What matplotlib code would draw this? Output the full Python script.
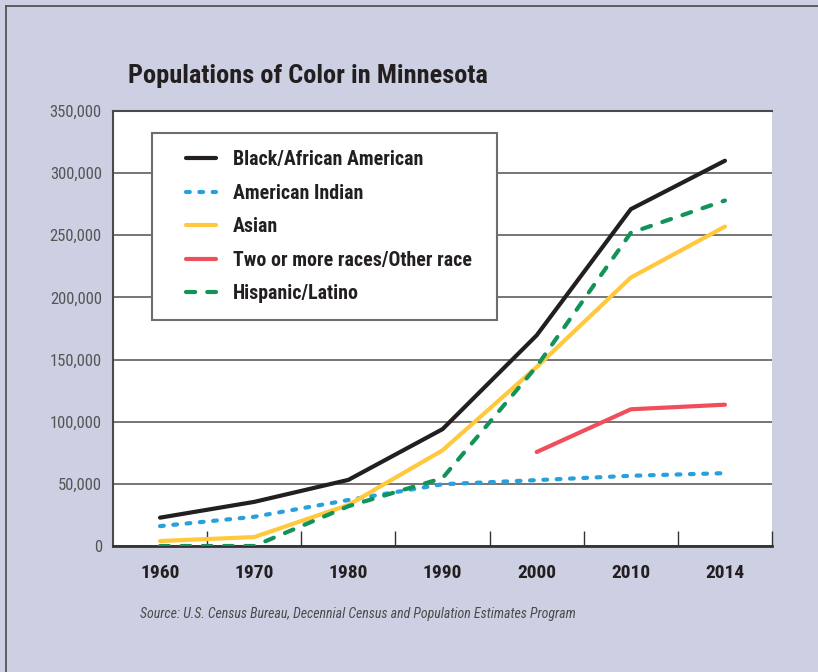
import numpy as np
import matplotlib
matplotlib.use("Agg")
import matplotlib.pyplot as plt
from matplotlib import font_manager as fm
from matplotlib.lines import Line2D
from matplotlib.patches import Rectangle

# Pick a narrow sans face if one is installed
_condensed = {f.name for f in fm.fontManager.ttflist
              if f.stretch in ('condensed', 'semi-condensed', 'extra-condensed',
                               'ultra-condensed')}
_family = 'DejaVu Sans'
for _name in ('Liberation Sans Narrow', 'Roboto Condensed', 'Open Sans Condensed',
              'Noto Sans Condensed', 'DejaVu Sans', 'Noto Sans', 'Open Sans', 'Roboto'):
    if _name in _condensed:
        _family = _name
        break
plt.rcParams['font.family'] = [_family, 'DejaVu Sans']
plt.rcParams['font.stretch'] = 'condensed'

# Census years and population counts by group
years = ['1960', '1970', '1980', '1990', '2000', '2010', '2014']
black = [22800, 35500, 53200, 94000, 169500, 271000, 310000]
american_indian = [16000, 23500, 37000, 49700, 53000, 56500, 58600]
asian = [4000, 7200, 33000, 77000, 144000, 216000, 257000]
two_or_more = [np.nan, np.nan, np.nan, np.nan, 75600, 110000, 113700]
hispanic = [0, 0, 32000, 54600, 144500, 252000, 278000]

y_ticks = [0, 50000, 100000, 150000, 200000, 250000, 300000, 350000]

BG = '#cdd0e3'
fig = plt.figure(figsize=(8.18, 6.72), dpi=100, facecolor=BG)
ax = fig.add_axes([0.1381, 0.1875, 0.8057, 0.6473])
ax.set_facecolor('white')

x = np.arange(len(years))
lw = 3.0
ax.plot(x, black, color='#231f20', lw=lw, solid_capstyle='round',
        solid_joinstyle='miter', label='Black/African American', zorder=4)
ax.plot(x, american_indian, color='#27a0dc', lw=lw, ls=(0, (0.9, 2.3)),
        dash_capstyle='round', label='American Indian', zorder=4)
ax.plot(x, asian, color='#ffc83d', lw=lw, solid_capstyle='round',
        label='Asian', zorder=4)
ax.plot(x, two_or_more, color='#ef4e5b', lw=lw, solid_capstyle='round',
        label='Two or more races/Other race', zorder=4)
ax.plot(x, hispanic, color='#12935a', lw=lw, ls=(0, (2.2, 2.9)),
        dash_capstyle='round', label='Hispanic/Latino', zorder=4)

ax.set_xlim(-0.5, len(years) - 0.5)
ax.set_ylim(0, 350000)

ax.set_yticks(y_ticks)
ax.set_yticklabels([f'{v:,}' for v in y_ticks])
ax.tick_params(axis='y', length=0, pad=8, labelsize=12, labelcolor='#555555')

ax.set_xticks(x)
ax.set_xticklabels(years, fontweight='bold')
ax.set_xticks(np.arange(0.5, len(years), 1.0), minor=True)
ax.tick_params(axis='x', which='major', length=0, pad=13, labelsize=14,
               labelcolor='#231f20')
ax.tick_params(axis='x', which='minor', direction='in', length=11, width=1,
               color='#333333')

ax.grid(axis='y', color='#5e5e5e', lw=1.2, zorder=1)
ax.set_axisbelow(True)

for side in ('top', 'left'):
    ax.spines[side].set_color('#4a4a4a')
    ax.spines[side].set_linewidth(1.5)
ax.spines['bottom'].set_color('#333333')
ax.spines['bottom'].set_linewidth(2.0)
ax.spines['right'].set_visible(False)

# Legend frame and entries
ax.add_patch(Rectangle((0.059, 0.52), 0.524, 0.429, transform=ax.transAxes,
                       facecolor='white', edgecolor='#6d6d6d', lw=1.5, zorder=3))
leg = ax.legend(loc='upper left', bbox_to_anchor=(0.111, 0.91),
                frameon=False, borderpad=0, borderaxespad=0,
                handlelength=1.5, handletextpad=0.85, labelspacing=0.73,
                prop={'weight': 'bold', 'size': 14.3})
leg.set_zorder(5)
for t in leg.get_texts():
    t.set_color('#231f20')

# Title and source note
fig.text(0.1565, 0.8765, 'Populations of Color in Minnesota', fontsize=19,
         fontweight='bold', color='#231f20', va='baseline', ha='left')
fig.text(0.1711, 0.0804,
         'Source: U.S. Census Bureau, Decennial Census and Population Estimates Program',
         fontsize=10, style='italic', color='#4a4a4a', va='baseline', ha='left')

# Outer frame edges
fig.add_artist(Line2D([5.5 / 818, 5.5 / 818], [0, 1 - 5.5 / 672],
                      transform=fig.transFigure, color='#555555', lw=1.3))
fig.add_artist(Line2D([5.5 / 818, 1], [1 - 5.5 / 672, 1 - 5.5 / 672],
                      transform=fig.transFigure, color='#555555', lw=1.3))

fig.savefig('out.png', dpi=100, facecolor=BG)
